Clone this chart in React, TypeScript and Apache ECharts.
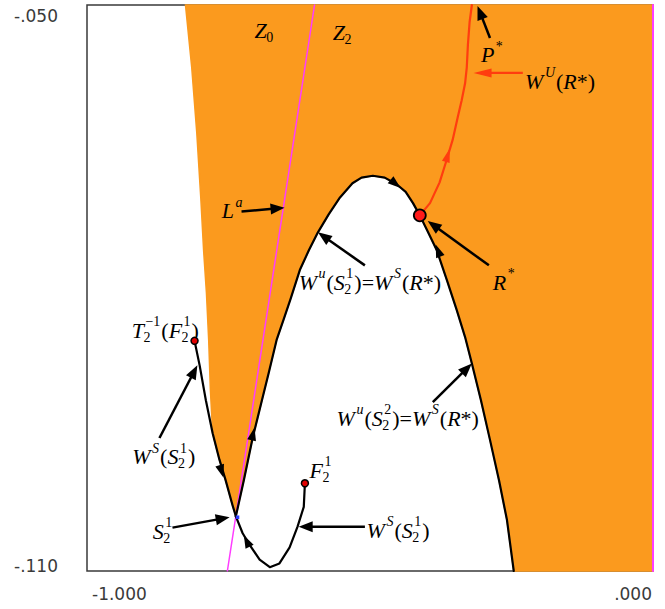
import { useEffect, useRef } from 'react';
import * as echarts from 'echarts';

type Pt = number[];

// ---- axis ticks ----
const xTickValues = [-1, 0];
const xTickLabels = ['-1.000', '.000'];
const yTickValues = [-0.11, -0.05];
const yTickLabels = ['-.110', '-.050'];

// ---- curves (data coordinates) ----
// left edge of the orange region, from the top down to where it meets W^s(S2^1)
const orangeLeftEdge: Pt[] = [
  [-0.826, -0.05], [-0.815, -0.0566], [-0.806, -0.0636], [-0.799, -0.0704],
  [-0.794, -0.076], [-0.789, -0.0805], [-0.785, -0.0855], [-0.782, -0.0908], [-0.778, -0.0954],
];
// W^s(S2^1): from T2^-1(F2^1) down to S2^1
const wsLeftCurve: Pt[] = [
  [-0.81, -0.0856], [-0.801, -0.0882], [-0.79, -0.0919], [-0.778, -0.0954],
  [-0.766, -0.0982], [-0.755, -0.1004], [-0.743, -0.103], [-0.737, -0.1042],
];
// W^u(S2^1)=W^s(R*) and W^u(S2^2)=W^s(R*): from S2^1 over the arch through R* to the bottom
const wuMainCurve: Pt[] = [
  [-0.737, -0.1042], [-0.723, -0.1004], [-0.707, -0.0958], [-0.693, -0.0924], [-0.679, -0.089],
  [-0.665, -0.0855], [-0.653, -0.0834], [-0.64, -0.0811], [-0.624, -0.0781], [-0.608, -0.076],
  [-0.592, -0.0741], [-0.573, -0.0722], [-0.553, -0.0704], [-0.531, -0.0689], [-0.515, -0.0683],
  [-0.495, -0.0681], [-0.474, -0.0683], [-0.453, -0.069], [-0.437, -0.0698], [-0.424, -0.071],
  [-0.412, -0.0723], [-0.398, -0.074], [-0.382, -0.076], [-0.364, -0.0792], [-0.347, -0.0823],
  [-0.332, -0.0852], [-0.32, -0.088], [-0.304, -0.0919], [-0.288, -0.0961], [-0.272, -0.1004],
  [-0.258, -0.1046], [-0.246, -0.11],
];
// lower branch of W^s(S2^1): from S2^1 down to the minimum and up to F2^1
const wsLowerCurve: Pt[] = [
  [-0.737, -0.1042], [-0.725, -0.106], [-0.713, -0.1072], [-0.695, -0.1088], [-0.677, -0.1096],
  [-0.66, -0.1092], [-0.642, -0.1075], [-0.628, -0.1053], [-0.617, -0.1032], [-0.615, -0.1007],
];
// W^U(R*): red unstable manifold from R* to P*
const wuRedCurve: Pt[] = [
  [-0.412, -0.0723], [-0.394, -0.071], [-0.377, -0.0688], [-0.366, -0.0667], [-0.354, -0.0643],
  [-0.345, -0.0619], [-0.338, -0.0601], [-0.332, -0.0583], [-0.329, -0.0566], [-0.327, -0.0542],
  [-0.324, -0.0518], [-0.32, -0.05],
];
const laLine: Pt[] = [[-0.752, -0.11], [-0.598, -0.05]];
const rightEdgeLine: Pt[] = [[0, -0.11], [0, -0.05]];

// ---- points ----
const smallRedPoints: Pt[] = [[-0.81, -0.0856], [-0.615, -0.1007]]; // T2^-1(F2^1), F2^1
const rStarPoint: Pt[] = [[-0.412, -0.0723]];
const s21Point: Pt[] = [[-0.734, -0.1043]];

// ---- arrowheads along curves: [base, tip] ----
const curveArrowsBlack: Pt[][] = [
  [[-0.711, -0.0966], [-0.704, -0.0948]],
  [[-0.713, -0.1074], [-0.723, -0.1062]],
  [[-0.766, -0.0987], [-0.759, -0.1001]],
  [[-0.462, -0.0686], [-0.446, -0.0694]],
  [[-0.375, -0.0768], [-0.384, -0.0754]],
];
const curveArrowsRed: Pt[][] = [[[-0.366, -0.0666], [-0.359, -0.0652]]];

// ---- pointer arrows: [from, to] ----
const pointerArrowsBlack: Pt[][] = [
  [[-0.288, -0.0535], [-0.31, -0.0501]],
  [[-0.727, -0.0719], [-0.651, -0.0715]],
  [[-0.509, -0.0776], [-0.592, -0.0741]],
  [[-0.29, -0.0776], [-0.398, -0.0729]],
  [[-0.389, -0.0921], [-0.32, -0.088]],
  [[-0.509, -0.1053], [-0.626, -0.1053]],
  [[-0.872, -0.0959], [-0.805, -0.0882]],
  [[-0.849, -0.1054], [-0.748, -0.1043]],
];
const pointerArrowsRed: Pt[][] = [[[-0.23, -0.0572], [-0.317, -0.0572]]];

// ---- labels ----
type Part = { t?: string; it?: boolean; sup?: string; sub?: string; supIt?: boolean };
type Label = { at: Pt; parts: Part[] };
const wsS21: Part[] = [{ t: 'W', it: true }, { sup: 'S', supIt: true }, { t: '(' }, { t: 'S', it: true }, { sub: '2', sup: '1' }, { t: ')' }];
const labels: Label[] = [
  { at: [-0.704, -0.0527], parts: [{ t: 'Z', it: true }, { sub: '0' }] },
  { at: [-0.566, -0.0529], parts: [{ t: 'Z', it: true }, { sub: '2' }] },
  { at: [-0.304, -0.0553], parts: [{ t: 'P', it: true }, { sup: '*' }] },
  { at: [-0.226, -0.0581], parts: [{ t: 'W', it: true }, { sup: 'U', supIt: true }, { t: '(' }, { t: 'R', it: true }, { t: '*)' }] },
  { at: [-0.762, -0.0718], parts: [{ t: 'L', it: true }, { sup: 'a', supIt: true }] },
  {
    at: [-0.626, -0.0794],
    parts: [{ t: 'W', it: true }, { sup: 'u', supIt: true }, { t: '(' }, { t: 'S', it: true }, { sub: '2', sup: '1' }, { t: ')=' },
      { t: 'W', it: true }, { sup: 'S', supIt: true }, { t: '(' }, { t: 'R', it: true }, { t: '*)' }],
  },
  { at: [-0.283, -0.0794], parts: [{ t: 'R', it: true }, { sup: '*' }] },
  {
    at: [-0.559, -0.0938],
    parts: [{ t: 'W', it: true }, { sup: 'u', supIt: true }, { t: '(' }, { t: 'S', it: true }, { sub: '2', sup: '2' }, { t: ')=' },
      { t: 'W', it: true }, { sup: 'S', supIt: true }, { t: '(' }, { t: 'R', it: true }, { t: '*)' }],
  },
  { at: [-0.506, -0.1057], parts: wsS21 },
  { at: [-0.92, -0.0979], parts: wsS21 },
  {
    at: [-0.921, -0.0845],
    parts: [{ t: 'T', it: true }, { sub: '2', sup: '\u22121' }, { t: '(' }, { t: 'F', it: true }, { sub: '2', sup: '1' }, { t: ')' }],
  },
  { at: [-0.884, -0.1058], parts: [{ t: 'S', it: true }, { sub: '2', sup: '1' }] },
  { at: [-0.607, -0.0993], parts: [{ t: 'F', it: true }, { sub: '2', sup: '1' }] },
];

// ---- styles ----
const ORANGE = '#fb9a1e';
const MAGENTA = '#ff3cff';
const RED_LINE = '#ff3d0f';
const FAMILY = '"Liberation Serif", "Times New Roman", serif';
const MAIN = 22;
const SCRIPT = 14;
const SUP_OFF = 8.5;
const SUB_OFF = 7;

let measureCtx: CanvasRenderingContext2D | null = null;
function measure(text: string, size: number, italic: boolean): number {
  if (!measureCtx) measureCtx = document.createElement('canvas').getContext('2d');
  const ctx = measureCtx as CanvasRenderingContext2D;
  ctx.font = `${italic ? 'italic ' : ''}${size}px ${FAMILY}`;
  return ctx.measureText(text).width;
}

function textEl(text: string, x: number, y: number, size: number, italic: boolean) {
  return {
    type: 'text',
    x,
    y,
    silent: true,
    style: {
      text,
      fontSize: size,
      fontFamily: FAMILY,
      fontStyle: italic ? 'italic' : 'normal',
      fill: '#000',
      align: 'left',
      verticalAlign: 'middle',
      textAlign: 'left',
      textVerticalAlign: 'middle',
    },
  };
}

function labelEls(label: Label, api: any) {
  const c = api.coord(label.at);
  const y0 = c[1];
  let x = c[0];
  const out: any[] = [];
  for (const p of label.parts) {
    if (p.t !== undefined) {
      out.push(textEl(p.t, x, y0, MAIN, !!p.it));
      x += measure(p.t, MAIN, !!p.it);
    } else {
      let w = 0;
      if (p.sup) {
        const sx = x + 1.5;
        out.push(textEl(p.sup, sx, y0 - SUP_OFF, SCRIPT, !!p.supIt));
        w = Math.max(w, sx - x + measure(p.sup, SCRIPT, !!p.supIt));
      }
      if (p.sub) {
        const sx = x - 0.5;
        out.push(textEl(p.sub, sx, y0 + SUB_OFF, SCRIPT, false));
        w = Math.max(w, sx - x + measure(p.sub, SCRIPT, false));
      }
      x += w + 1;
    }
  }
  return out;
}

function headEl(base: number[], tip: number[], color: string, len: number, half: number) {
  const dx = tip[0] - base[0];
  const dy = tip[1] - base[1];
  const l = Math.hypot(dx, dy) || 1;
  const ux = dx / l;
  const uy = dy / l;
  const bx = tip[0] - ux * len;
  const by = tip[1] - uy * len;
  return {
    type: 'polygon',
    silent: true,
    shape: { points: [[tip[0], tip[1]], [bx - uy * half, by + ux * half], [bx + uy * half, by - ux * half]] },
    style: { fill: color },
  };
}

function pointerEls(from: Pt, to: Pt, color: string, api: any, len: number, half: number, lw: number) {
  const a = api.coord(from);
  const b = api.coord(to);
  const dx = b[0] - a[0];
  const dy = b[1] - a[1];
  const l = Math.hypot(dx, dy) || 1;
  const ex = b[0] - (dx / l) * (len - 2);
  const ey = b[1] - (dy / l) * (len - 2);
  return [
    { type: 'line', silent: true, shape: { x1: a[0], y1: a[1], x2: ex, y2: ey }, style: { stroke: color, lineWidth: lw } },
    headEl(a, b, color, len, half),
  ];
}

function lineSeries(data: Pt[], color: string, width: number, z: number, clip = true) {
  return {
    type: 'line',
    data,
    symbol: 'none',
    silent: true,
    clip,
    z,
    lineStyle: { color, width, cap: 'round', join: 'round' },
  };
}

export default function App() {
  const ref = useRef<HTMLDivElement>(null);
  useEffect(() => {
    if (!ref.current) return;
    const chart = echarts.init(ref.current, undefined, { renderer: 'svg' });
    const orangePolygon: Pt[] = [
      ...orangeLeftEdge,
      ...wsLeftCurve.filter((p) => p[1] < -0.0955),
      ...wuMainCurve,
      [0, -0.11],
      [0, -0.05],
    ];
    const labelFont = { fontFamily: '"DejaVu Sans", sans-serif', fontSize: 17, color: '#3a3a3a' };
    const findIdx = (arr: number[], v: number) => arr.findIndex((t) => Math.abs(t - v) < 1e-9);
    chart.setOption({
      animation: false,
      grid: {
        left: 87,
        right: 12,
        top: 5,
        bottom: 38,
        show: true,
        borderColor: '#3a3a3a',
        borderWidth: 1.5,
        backgroundColor: 'transparent',
        outerBoundsMode: 'none',
      },
      xAxis: {
        type: 'value',
        min: -1,
        max: 0,
        interval: 1,
        axisLine: { show: false },
        axisTick: { show: false },
        splitLine: { show: false },
        axisLabel: {
          ...labelFont,
          margin: 14,
          showMinLabel: true,
          showMaxLabel: true,
          alignMinLabel: 'left',
          alignMaxLabel: 'right',
          formatter: (v: number) => {
            const i = findIdx(xTickValues, v);
            if (i < 0) return '';
            return i === 0 ? `{l|${xTickLabels[i]}}` : `{r|${xTickLabels[i]}}`;
          },
          rich: {
            l: { ...labelFont, padding: [0, 0, 0, 5] },
            r: { ...labelFont, padding: [0, 1, 0, 0] },
          },
        },
      },
      yAxis: {
        type: 'value',
        min: -0.11,
        max: -0.05,
        interval: 0.01,
        axisLine: { show: false },
        axisTick: { show: false },
        splitLine: { show: false },
        axisLabel: {
          ...labelFont,
          margin: 29,
          showMinLabel: true,
          showMaxLabel: true,
          formatter: (v: number) => {
            const i = findIdx(yTickValues, v);
            if (i < 0) return '';
            return i === 0 ? `{b|${yTickLabels[i]}}` : `{t|${yTickLabels[i]}}`;
          },
          rich: {
            b: { ...labelFont, padding: [0, 0, 10, 0] },
            t: { ...labelFont, padding: [22, 0, 0, 0] },
          },
        },
      },
      series: [
        {
          type: 'custom',
          z: 1,
          silent: true,
          clip: false,
          data: [[-0.5, -0.08]],
          renderItem: (_p: any, api: any) => ({
            type: 'polygon',
            shape: { points: orangePolygon.map((p) => api.coord(p)) },
            style: { fill: ORANGE, stroke: ORANGE, lineWidth: 1.5 },
          }),
        },
        lineSeries(laLine, MAGENTA, 1.5, 3),
        lineSeries(rightEdgeLine, MAGENTA, 2, 3, false),
        lineSeries(wsLeftCurve, '#000', 2.2, 4),
        lineSeries(wuMainCurve, '#000', 2.2, 4),
        lineSeries(wsLowerCurve, '#000', 2.2, 4),
        lineSeries(wuRedCurve, RED_LINE, 2.2, 4, false),
        {
          type: 'custom',
          z: 6,
          silent: true,
          clip: false,
          data: [[-0.5, -0.08]],
          renderItem: (_p: any, api: any) => {
            const children: any[] = [];
            curveArrowsBlack.forEach(([b, t]) => children.push(headEl(api.coord(b), api.coord(t), '#000', 13, 4.5)));
            curveArrowsRed.forEach(([b, t]) => children.push(headEl(api.coord(b), api.coord(t), RED_LINE, 14, 4)));
            pointerArrowsBlack.forEach(([f, t]) => children.push(...pointerEls(f, t, '#000', api, 14, 5.5, 2.5)));
            pointerArrowsRed.forEach(([f, t]) => children.push(...pointerEls(f, t, RED_LINE, api, 18, 4.5, 2.2)));
            labels.forEach((lb) => children.push(...labelEls(lb, api)));
            return { type: 'group', children };
          },
        },
        {
          type: 'scatter',
          z: 7,
          silent: true,
          data: smallRedPoints,
          symbol: 'circle',
          symbolSize: 7,
          itemStyle: { color: '#e00000', borderColor: '#000', borderWidth: 1.5, opacity: 1 },
        },
        {
          type: 'scatter',
          z: 7,
          silent: true,
          data: rStarPoint,
          symbol: 'circle',
          symbolSize: 12,
          itemStyle: { color: '#ff1a1a', borderColor: '#000', borderWidth: 1.8, opacity: 1 },
        },
        {
          type: 'scatter',
          z: 7,
          silent: true,
          data: s21Point,
          symbol: 'rect',
          symbolSize: 3.5,
          itemStyle: { color: '#2a3cff', opacity: 1 },
        },
      ],
    });
    return () => chart.dispose();
  }, []);
  return (
    <div
      ref={ref}
      style={{ position: 'fixed', left: 0, top: 0, width: 665, height: 609, background: '#fff' }}
    />
  );
}
